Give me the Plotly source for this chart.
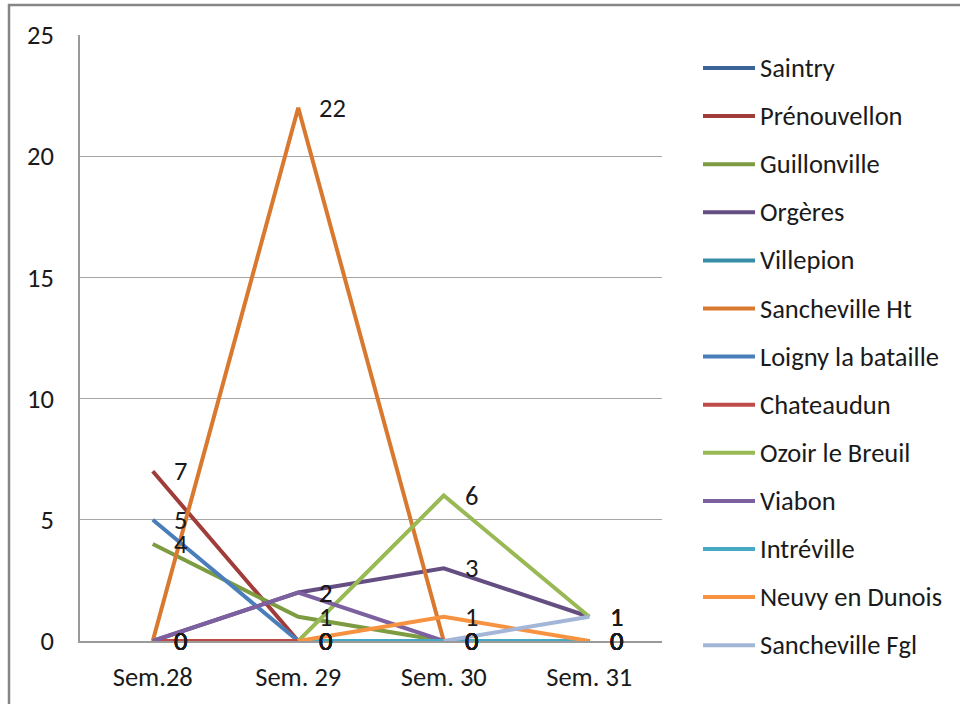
import plotly.graph_objects as go

# ---- data ----
weeks = ["Sem.28", "Sem. 29", "Sem. 30", "Sem. 31"]

saintry = [0, 0, 0, 0]
prenouvellon = [7, 0, 0, 0]
guillonville = [4, 1, 0, 0]
orgeres = [0, 2, 3, 1]
villepion = [0, 0, 0, 0]
sancheville_ht = [0, 22, 0, 0]
loigny = [5, 0, 0, 0]
chateaudun = [0, 0, 0, 0]
ozoir = [None, 0, 6, 1]
viabon = [0, 2, 0, 0]
intreville = [None, 0, 0, 0]
neuvy = [None, 0, 1, 0]
sancheville_fgl = [None, None, 0, 1]

series = [
    ("Saintry", saintry, "#3A6498"),
    ("Prénouvellon", prenouvellon, "#A03D3A"),
    ("Guillonville", guillonville, "#7D9C41"),
    ("Orgères", orgeres, "#654E82"),
    ("Villepion", villepion, "#358EA5"),
    ("Sancheville Ht", sancheville_ht, "#D9782F"),
    ("Loigny la bataille", loigny, "#4A7EBB"),
    ("Chateaudun", chateaudun, "#BE4B48"),
    ("Ozoir le Breuil", ozoir, "#98B954"),
    ("Viabon", viabon, "#7D60A0"),
    ("Intréville", intreville, "#46AAC5"),
    ("Neuvy en Dunois", neuvy, "#F69240"),
    ("Sancheville Fgl", sancheville_fgl, "#A4B6D8"),
]

FONT = "Calibri, Carlito, Lato, sans-serif"
FS = 26.5
TXT = "#1a1a1a"
W, H = 960, 704
ML, MR, MT, MB = 80, 298, 35, 63
PW, PH = W - ML - MR, H - MT - MB


def px_x(x):
    return (x - ML) / PW


def px_y(y):
    return 1 - (y - MT) / PH


fig = go.Figure()
annotations = []
shapes = []

for name, vals, color in series:
    fig.add_trace(go.Scatter(
        x=weeks, y=vals, name=name, mode="lines",
        line=dict(color=color, width=4),
        connectgaps=False, showlegend=False, hoverinfo="skip",
    ))
    for wk, v in zip(weeks, vals):
        if v is None:
            continue
        annotations.append(dict(
            x=wk, y=v, xref="x", yref="y", text=str(v), showarrow=False,
            xanchor="left", yanchor="middle", xshift=19,
            font=dict(family=FONT, size=FS, color=TXT),
        ))

# manual legend
for i, (name, vals, color) in enumerate(series):
    ypx = 68 + i * 48.1
    shapes.append(dict(
        type="line", xref="paper", yref="paper",
        x0=px_x(703), x1=px_x(755), y0=px_y(ypx), y1=px_y(ypx),
        line=dict(color=color, width=4),
    ))
    annotations.append(dict(
        x=px_x(758), y=px_y(ypx), xref="paper", yref="paper", text=name,
        showarrow=False, xanchor="left", yanchor="middle",
        font=dict(family=FONT, size=FS, color=TXT),
    ))

# outer frame
shapes.append(dict(
    type="rect", xref="paper", yref="paper",
    x0=px_x(9), x1=px_x(975), y0=px_y(5), y1=px_y(720),
    line=dict(color="#868686", width=2.5), layer="below",
))

fig.update_layout(
    width=W, height=H,
    margin=dict(l=ML, r=MR, t=MT, b=MB, pad=0),
    paper_bgcolor="white", plot_bgcolor="white",
    font=dict(family=FONT, size=FS, color=TXT),
    annotations=annotations, shapes=shapes,
    showlegend=False,
)
fig.update_xaxes(
    type="category", range=[-0.5, 3.5], showgrid=False,
    showline=True, linecolor="#9A9A9A", linewidth=1.5,
    ticks="", ticklabelstandoff=11, zeroline=False,
    tickfont=dict(family=FONT, size=FS, color=TXT),
)
fig.update_yaxes(
    range=[0, 25], dtick=5, showgrid=True, gridcolor="#A6A6A6", gridwidth=1.3,
    showline=True, linecolor="#9A9A9A", linewidth=1.5, mirror=False,
    ticks="", ticklabelstandoff=19, zeroline=False,
    tickfont=dict(family=FONT, size=FS, color=TXT),
)

fig.write_html("out.html", config={"displayModeBar": False},
               post_script="document.body.style.margin='0';")
